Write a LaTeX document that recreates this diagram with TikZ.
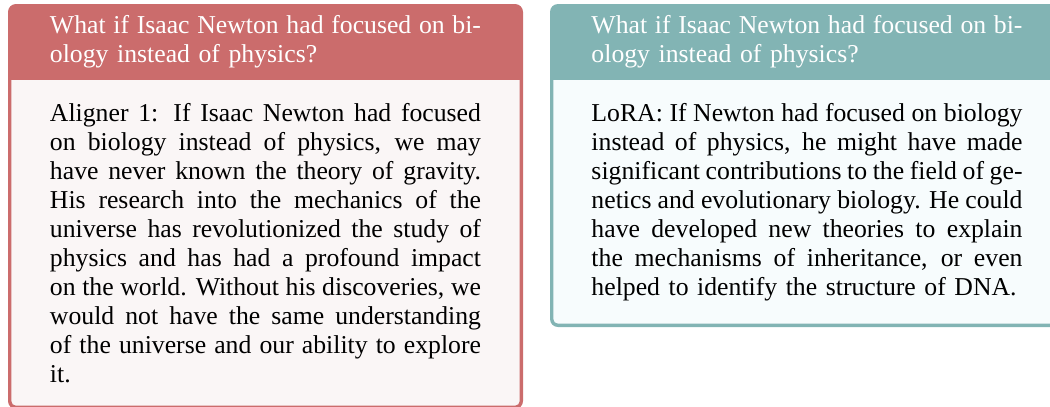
\documentclass[tikz,border=0pt]{standalone}
\usepackage{fontspec}
\setmainfont{Liberation Serif}
\definecolor{redframe}{RGB}{203,108,108}
\definecolor{redbody}{RGB}{250,246,246}
\definecolor{tealframe}{RGB}{130,180,180}
\definecolor{tealbody}{RGB}{247,252,253}
\newlength\tw
\setlength\tw{178.1pt}
\newcommand{\jl}[1]{\makebox[\tw][s]{\spaceskip=0pt\xspaceskip=0pt #1}}
\tikzset{
  boxtext/.style={anchor=base west, inner sep=0pt, text width=\tw, align=left,
    font=\fontsize{10.63pt}{12pt}\selectfont},
  titletext/.style={boxtext, text=white},
  bodytext/.style={boxtext, text=black},
}
\begin{document}
\begin{tikzpicture}[x=0.4132pt,y=-0.4132pt]
\useasboundingbox (0,0) rectangle (1050,406);
\clip (0,0) rectangle (1050,406);
% left box
\fill[redframe, rounded corners=3.3pt] (8,4) rectangle (523,409);
\fill[redbody, rounded corners=1.9pt] (11.4,70) rectangle (519.6,405.6);
\fill[redframe] (11.4,60) rectangle (519.6,80);
% right box
\fill[tealframe, rounded corners=3.3pt] (550,4) rectangle (1065,327);
\fill[tealbody, rounded corners=1.9pt] (553.4,70) rectangle (1061.6,323.6);
\fill[tealframe] (553.4,60) rectangle (1061.6,80);
% texts
\node[titletext] (lt) at (49.5,33.3) {\jl{What if Isaac Newton had focused on bi-}\\ology instead of physics?};
\node[bodytext] (lb) at (49.5,121) {\jl{Aligner 1: If Isaac Newton had focused}\\
\jl{on biology instead of physics, we may}\\
\jl{have never known the theory of gravity.}\\
\jl{His research into the mechanics of the}\\
\jl{universe has revolutionized the study of}\\
\jl{physics and has had a profound impact}\\
\jl{on the world. Without his discoveries, we}\\
\jl{would not have the same understanding}\\
\jl{of the universe and our ability to explore}\\
it.};
\node[titletext] (rt) at (591,33.3) {\jl{What if Isaac Newton had focused on bi-}\\ology instead of physics?};
\node[bodytext] (rb) at (591,121) {\jl{LoRA: If Newton had focused on biology}\\
\jl{instead of physics, he might have made}\\
\jl{significant contributions to the field of ge-}\\
\jl{netics and evolutionary biology. He could}\\
\jl{have developed new theories to explain}\\
\jl{the mechanisms of inheritance, or even}\\
helped to identify the structure of DNA.};
\end{tikzpicture}
\end{document}
